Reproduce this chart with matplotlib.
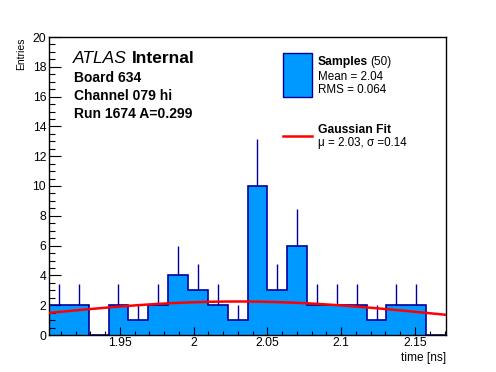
import numpy as np
import matplotlib.pyplot as plt
from matplotlib.ticker import MultipleLocator, FormatStrFormatter

plt.rcParams['font.family'] = ['Liberation Sans', 'DejaVu Sans']

# histogram: 20 bins of sample times
x_min, x_max = 1.902, 2.171
counts = [2, 2, 0, 2, 1, 2, 4, 3, 2, 1, 10, 3, 6, 2, 2, 2, 1, 2, 2, 0]
n_samples = 50
mean_val = 2.04
rms_val = 0.064

# gaussian fit parameters
fit_amp = 2.25
fit_mu = 2.03
fit_sigma = 0.14

board = 634
channel = "079 hi"
run = 1674
amp = 0.299

W, H = 496, 372
fig = plt.figure(figsize=(W / 100, H / 100), dpi=100)
ax = fig.add_axes([49 / W, 1 - 335 / H, 397 / W, 298 / H])

edges = np.linspace(x_min, x_max, len(counts) + 1)
centers = 0.5 * (edges[:-1] + edges[1:])
counts = np.array(counts, dtype=float)

ax.stairs(counts, edges, fill=True, color='#0099ff', zorder=1)
ax.stairs(counts, edges, color='#000099', lw=1.2, zorder=2)
nz = counts > 0
ax.vlines(centers[nz], counts[nz], counts[nz] + np.sqrt(counts[nz]),
          color='#000099', lw=1.0, zorder=2)

xs = np.linspace(x_min, x_max, 200)
ax.plot(xs, fit_amp * np.exp(-0.5 * ((xs - fit_mu) / fit_sigma) ** 2),
        color='red', lw=1.8, zorder=3)

ax.set_xlim(x_min, x_max)
ax.set_ylim(0, 20)
ax.xaxis.set_major_locator(MultipleLocator(0.05))
ax.xaxis.set_minor_locator(MultipleLocator(0.01))
ax.xaxis.set_major_formatter(FormatStrFormatter('%g'))
ax.yaxis.set_major_locator(MultipleLocator(2))
ax.yaxis.set_minor_locator(MultipleLocator(0.5))
ax.tick_params(which='both', direction='in', top=False, right=False,
               labelsize=8.7, width=0.8)
ax.tick_params(axis='y', which='major', length=8.6, pad=2)
ax.tick_params(axis='y', which='minor', length=4.3)
ax.tick_params(axis='x', which='major', length=5.8, pad=1.5)
ax.tick_params(axis='x', which='minor', length=2.9)
for s in ax.spines.values():
    s.set_linewidth(1.0)

def px(x, y):
    return x / W, 1 - y / H

fig.text(*px(21, 37), "Entries", rotation=90, ha='center', va='top', fontsize=7.5)
fig.text(*px(446, 361), "time [ns]", ha='right', va='baseline', fontsize=8.6)

fig.text(*px(73, 63.3), "ATLAS", style='italic', fontsize=12.5, va='baseline')
fig.text(*px(131.7, 63.3), "Internal", weight='bold', fontsize=12.5, va='baseline')
fig.text(*px(74, 81.7), f"Board {board}", weight='bold', fontsize=10, va='baseline')
fig.text(*px(74, 100), f"Channel {channel}", weight='bold', fontsize=10, va='baseline')
fig.text(*px(74, 118.3), f"Run {run} A={amp}", weight='bold', fontsize=10, va='baseline')

# legend
ax.add_patch(plt.Rectangle(px(283.3, 96.7), 28.4 / W, 43.4 / H, transform=fig.transFigure,
                           facecolor='#0099ff', edgecolor='#000099', lw=1.0))
fig.text(*px(317.7, 65), "Samples", weight='bold', fontsize=8.7, va='baseline')
fig.text(*px(370, 65), f"({n_samples})", fontsize=8.5, va='baseline')
fig.text(*px(317.7, 80), f"Mean = {mean_val}", fontsize=8.4, va='baseline')
fig.text(*px(317.7, 93.3), f"RMS = {rms_val}", fontsize=8.4, va='baseline')
fig.lines.append(plt.Line2D([283.3 / W, 311.7 / W], [1 - 135.7 / H] * 2,
                            transform=fig.transFigure, color='red', lw=1.8))
fig.text(*px(317.7, 133.3), "Gaussian Fit", weight='bold', fontsize=8.7, va='baseline')
fig.text(*px(317.7, 146), f"\u03bc = {fit_mu}, \u03c3 ={fit_sigma}", fontsize=8.4, va='baseline')

fig.savefig("out.png", dpi=100)
